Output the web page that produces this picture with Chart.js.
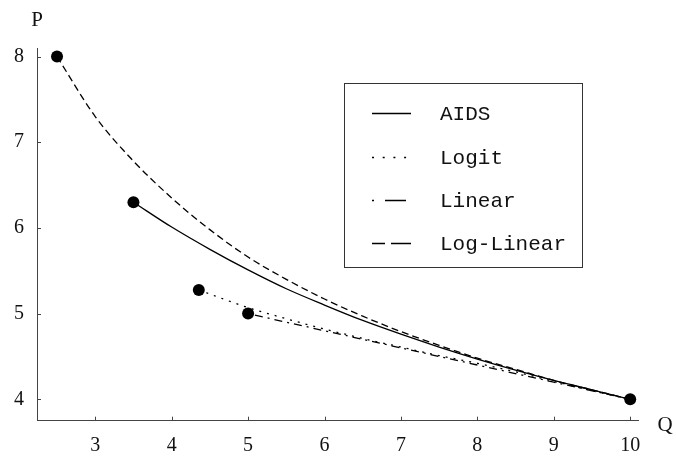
<!DOCTYPE html>
<html>
<head>
<meta charset="utf-8">
<script src="https://cdn.jsdelivr.net/npm/chart.js@4.4.1/dist/chart.umd.min.js"></script>
<style>
  body { margin: 0; background: #fff; }
  canvas { display: block; }
</style>
</head>
<body>
<canvas id="demandChart" width="676" height="458"></canvas>
<script>
// valores (Q = cantidad, P = precio)
const aidsQ = [3.5, 4, 4.5, 5, 5.5, 6, 6.5, 7, 7.5, 8, 8.5, 9, 9.5, 10];
const aidsP = [6.30, 6.01, 5.75, 5.51, 5.29, 5.10, 4.92, 4.76, 4.61, 4.47, 4.34, 4.22, 4.11, 4.0];

const logitQ = [4.355, 5, 5.5, 6, 6.5, 7, 7.5, 8, 8.5, 9, 9.5, 10];
const logitP = [5.275, 5.07, 4.94, 4.82, 4.71, 4.61, 4.51, 4.42, 4.32, 4.21, 4.10, 4.0];

const linearQ = [5, 6, 7, 8, 9, 10];
const linearP = [5.0, 4.8, 4.6, 4.4, 4.2, 4.0];

const logLinQ = [2.5, 3, 3.5, 4, 4.5, 5, 5.5, 6, 6.5, 7, 7.5, 8, 8.5, 9, 9.5, 10];
const logLinP = [8.0, 7.30, 6.78, 6.35, 5.98, 5.66, 5.40, 5.17, 4.97, 4.79, 4.63, 4.48, 4.35, 4.22, 4.11, 4.0];

const dotQ = [2.5, 3.5, 4.355, 5, 10];
const dotP = [8.0, 6.30, 5.275, 5.0, 4.0];

const xTicks = [3, 4, 5, 6, 7, 8, 9, 10];
const yTicks = [4, 5, 6, 7, 8];

function pts(qs, ps) {
    return qs.map((q, i) => ({ x: q, y: ps[i] }));
}

const AXIS_COLOR = '#444';

// marcas de los ticks hacia dentro, etiquetas P y Q
const axisExtras = {
    id: 'axisExtras',
    afterDraw(chart) {
        const ctx = chart.ctx;
        const area = chart.chartArea;
        const xs = chart.scales.x;
        const ys = chart.scales.y;
        ctx.save();
        ctx.strokeStyle = AXIS_COLOR;
        ctx.lineWidth = 1;
        ctx.beginPath();
        xTicks.forEach(v => {
            const px = Math.round(xs.getPixelForValue(v)) + 0.5;
            ctx.moveTo(px, area.bottom);
            ctx.lineTo(px, area.bottom - 4);
        });
        yTicks.forEach(v => {
            const py = Math.round(ys.getPixelForValue(v)) + 0.5;
            ctx.moveTo(area.left, py);
            ctx.lineTo(area.left + 4, py);
        });
        ctx.stroke();

        ctx.fillStyle = '#111';
        ctx.font = '21px "Liberation Serif"';
        ctx.textAlign = 'center';
        ctx.textBaseline = 'middle';
        ctx.fillText('P', area.left, 20);
        ctx.fillText('Q', 665, 425);
        ctx.restore();
    }
};

// leyenda en recuadro dentro del area
const boxLegend = {
    id: 'boxLegend',
    afterDraw(chart) {
        const ctx = chart.ctx;
        const box = { x: 344.5, y: 83.5, w: 238, h: 184 };
        ctx.save();
        ctx.strokeStyle = '#333';
        ctx.lineWidth = 1;
        ctx.strokeRect(box.x, box.y, box.w, box.h);
        ctx.font = '21px "Liberation Mono"';
        ctx.fillStyle = '#111';
        ctx.textAlign = 'left';
        ctx.textBaseline = 'middle';
        const rows = [113, 157, 200, 243];
        chart.data.datasets.filter(d => d.legendDash).forEach((d, i) => {
            const y = rows[i] + 0.5;
            ctx.strokeStyle = '#000';
            ctx.lineWidth = 1.3;
            ctx.setLineDash(d.legendDash);
            ctx.beginPath();
            ctx.moveTo(372, y);
            ctx.lineTo(411, y);
            ctx.stroke();
            ctx.setLineDash([]);
            ctx.fillText(d.label, 440, rows[i] + 1);
        });
        ctx.restore();
    }
};

const ctx = document.getElementById('demandChart').getContext('2d');
const demandChart = new Chart(ctx, {
    type: 'line',
    data: {
        datasets: [{
            label: 'puntos',
            data: pts(dotQ, dotP),
            showLine: false,
            pointRadius: 6,
            pointBackgroundColor: '#000',
            pointBorderColor: '#000',
            pointBorderWidth: 0
        }, {
            label: 'AIDS',
            data: pts(aidsQ, aidsP),
            borderColor: '#000',
            borderWidth: 1.3,
            pointRadius: 0,
            cubicInterpolationMode: 'monotone',
            legendDash: []
        }, {
            label: 'Logit',
            data: pts(logitQ, logitP),
            borderColor: '#000',
            borderWidth: 1.3,
            borderDash: [2, 6],
            pointRadius: 0,
            cubicInterpolationMode: 'monotone',
            legendDash: [2, 8.7]
        }, {
            label: 'Linear',
            data: pts(linearQ, linearP),
            borderColor: '#000',
            borderWidth: 1.3,
            borderDash: [2, 5, 8, 5],
            pointRadius: 0,
            legendDash: [2, 11, 21, 20]
        }, {
            label: 'Log-Linear',
            data: pts(logLinQ, logLinP),
            borderColor: '#000',
            borderWidth: 1.3,
            borderDash: [7, 4],
            pointRadius: 0,
            cubicInterpolationMode: 'monotone',
            legendDash: [13, 6, 20, 10]
        }]
    },
    options: {
        responsive: false,
        animation: false,
        layout: { padding: { top: 48, right: 38, bottom: 0, left: 0 } },
        plugins: {
            legend: { display: false },
            tooltip: { enabled: false }
        },
        scales: {
            x: {
                type: 'linear',
                min: 2.238,
                max: 10.102,
                afterFit: scale => { scale.height = 37.3; },
                afterBuildTicks: scale => { scale.ticks = xTicks.map(v => ({ value: v })); },
                grid: { drawOnChartArea: false, drawTicks: false },
                border: { color: AXIS_COLOR, width: 1 },
                ticks: {
                    padding: 13,
                    color: '#111',
                    font: { family: 'Liberation Serif', size: 20 }
                }
            },
            y: {
                type: 'linear',
                min: 3.75,
                max: 8.10,
                afterFit: scale => { scale.width = 37; },
                afterBuildTicks: scale => { scale.ticks = yTicks.map(v => ({ value: v })); },
                grid: { drawOnChartArea: false, drawTicks: false },
                border: { color: AXIS_COLOR, width: 1 },
                ticks: {
                    padding: 13,
                    color: '#111',
                    font: { family: 'Liberation Serif', size: 20 }
                }
            }
        }
    },
    plugins: [axisExtras, boxLegend]
});
</script>
</body>
</html>
